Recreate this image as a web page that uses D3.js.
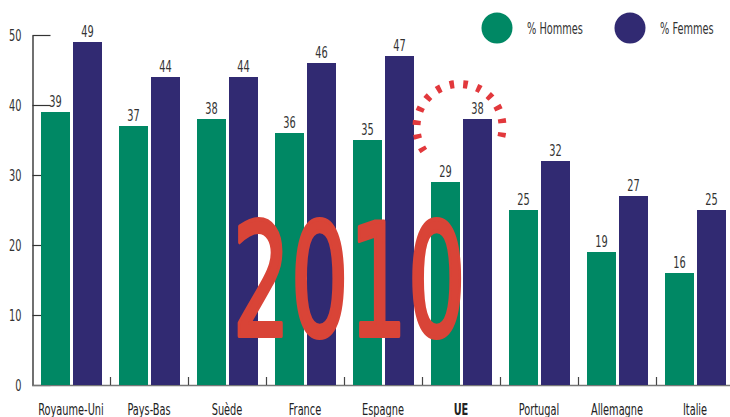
<!DOCTYPE html>
<html>
<head>
<meta charset="utf-8">
<script src="https://cdn.jsdelivr.net/npm/d3@7/dist/d3.min.js"></script>
<style>
  html, body { margin: 0; padding: 0; background: #fff; }
  svg { display: block; }
  svg text { font-family: "DejaVu Sans Condensed", "Liberation Sans Narrow", "Liberation Sans", sans-serif; }
</style>
</head>
<body>
<svg id="chart" width="730" height="417"></svg>
<script>
const categories = ["Royaume-Uni", "Pays-Bas", "Suède", "France", "Espagne", "UE", "Portugal", "Allemagne", "Italie"];
const hommes = [39, 37, 38, 36, 35, 29, 25, 19, 16];
const femmes = [49, 44, 44, 46, 47, 38, 32, 27, 25];
const seriesNames = ["% Hommes", "% Femmes"];
const seriesColors = ["#008864", "#312a72"];
const yTicks = [0, 10, 20, 30, 40, 50];
const yearLabel = "2010";
const highlight = "UE";

const svg = d3.select("#chart");
const SX = 0.68;

const y = d3.scaleLinear().domain([0, 50]).range([385, 35]);
const x0 = d3.scaleBand().domain(categories).range([32, 734]).padding(0);
const x1 = d3.scaleBand().domain([0, 1]).range([9, 70]).paddingInner(3 / 32);

// y axis
const yAxis = svg.append("g").attr("transform", "translate(32.5,0)")
  .call(d3.axisLeft(y).tickValues(yTicks).tickSizeInner(-18).tickSizeOuter(0).tickPadding(11));
yAxis.attr("font-family", null);
yAxis.select(".domain").attr("stroke", "#111").attr("stroke-width", 1.2);
yAxis.selectAll(".tick line").attr("stroke", "#333").attr("stroke-width", 1.2);
yAxis.selectAll(".tick text")
  .attr("x", null)
  .attr("transform", "translate(-11,0) scale(" + SX + ",1)")
  .attr("font-size", 16)
  .style("fill", "#333");

// x axis baseline
svg.append("line").attr("x1", 32).attr("x2", 730).attr("y1", y(0) + 0.5).attr("y2", y(0) + 0.5)
  .attr("stroke", "#777").attr("stroke-width", 1.5);

// group separator ticks
svg.append("g").selectAll("line").data(categories.slice(1))
  .join("line")
  .attr("x1", d => x0(d) + 0.5).attr("x2", d => x0(d) + 0.5)
  .attr("y1", y(0)).attr("y2", y(0) - 8)
  .attr("stroke", "#444").attr("stroke-width", 1.2);

// bars
const groups = svg.append("g").selectAll("g").data(categories).join("g")
  .attr("transform", d => "translate(" + x0(d) + ",0)");

groups.each(function (c, i) {
  const vals = [hommes[i], femmes[i]];
  const g = d3.select(this);
  g.selectAll("rect").data(vals).join("rect")
    .attr("x", (v, k) => x1(k))
    .attr("y", v => y(v))
    .attr("width", x1.bandwidth())
    .attr("height", v => y(0) - y(v))
    .attr("fill", (v, k) => seriesColors[k]);
  g.selectAll("text.val").data(vals).join("text")
    .attr("class", "val")
    .attr("text-anchor", "middle")
    .attr("font-size", 16)
    .style("fill", "#333")
    .attr("transform", (v, k) => "translate(" + (x1(k) + x1.bandwidth() / 2) + "," + (y(v) - 5) + ") scale(" + SX + ",1)")
    .text(v => v);
});

// category labels
svg.append("g").selectAll("text").data(categories).join("text")
  .attr("text-anchor", "middle")
  .attr("font-size", 16)
  .attr("font-weight", d => d === highlight ? "bold" : "normal")
  .style("fill", "#222")
  .attr("transform", d => "translate(" + (x0(d) + x0.bandwidth() / 2) + ",414.5) scale(" + SX + ",1)")
  .text(d => d);

// legend
const legendX = [497, 630];
const leg = svg.append("g").selectAll("g").data(seriesNames).join("g")
  .attr("transform", (d, i) => "translate(" + legendX[i] + ",28)");
leg.append("circle").attr("r", 15.5).attr("fill", (d, i) => seriesColors[i]);
leg.append("text")
  .attr("transform", "translate(30,5.5) scale(" + SX + ",1)")
  .attr("font-size", 16)
  .style("fill", "#333")
  .text(d => d);

// big year
svg.append("text")
  .attr("text-anchor", "middle")
  .attr("font-size", 157)
  .style("fill", "#d94437")
  .style("stroke", "#d94437")
  .style("stroke-width", 4)
  .style("stroke-linejoin", "round")
  .attr("transform", "translate(349,335.5) scale(0.65,1)")
  .text(yearLabel);

// dashed highlight arc around UE femmes value
const hi = categories.indexOf(highlight);
const cx = x0(highlight) + x1(1) + x1.bandwidth() / 2 - 18;
const cy = y(femmes[hi]) + 8;
const r = 43;
const a0 = 146 * Math.PI / 180, a1 = 385 * Math.PI / 180;
const p = d3.path();
p.arc(cx, cy, r, a0, a1, false);
const arcLen = r * (a1 - a0);
const gap = arcLen / 13 - 4.5;
svg.append("path").attr("d", p.toString())
  .attr("fill", "none")
  .attr("stroke", "#e2383c")
  .attr("stroke-width", 8)
  .attr("stroke-dasharray", "4.5 " + gap);
</script>
</body>
</html>
